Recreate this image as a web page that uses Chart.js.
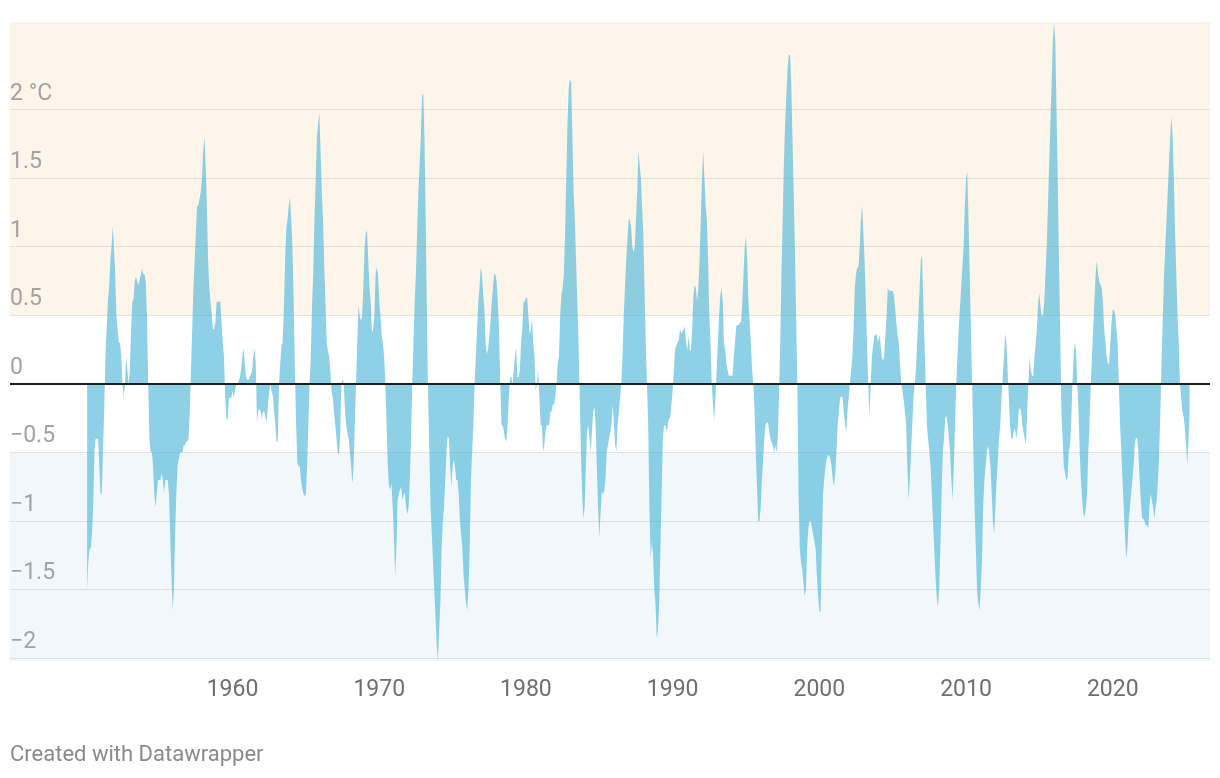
<!DOCTYPE html>
<html>
<head>
<meta charset="utf-8">
<script src="https://cdn.jsdelivr.net/npm/chart.js@4"></script>
<style>
  html, body { margin: 0; padding: 0; background: #ffffff; }
  #wrap { position: relative; width: 1220px; height: 778px; }
  #footer { position: absolute; left: 10px; top: 741px; font: 22px Roboto, sans-serif; color: #8a8a8a; }
</style>
</head>
<body>
<div id="wrap">
  <canvas id="c" width="1220" height="778"></canvas>
  <div id="footer">Created with Datawrapper</div>
</div>
<script>
// ---- DATA ----
const startYear = 1950;               // first month: Jan 1950, monthly values
const xTickYears = [1960, 1970, 1980, 1990, 2000, 2010, 2020];
const yTickValues = [-2, -1.5, -1, -0.5, 0, 0.5, 1, 1.5, 2];
const elNinoThreshold = 0.5;
const laNinaThreshold = -0.5;
const anomaly = [
/*1950*/ -1.5,-1.3,-1.2,-1.2,-1.1,-0.9,-0.5,-0.4,-0.4,-0.4,-0.6,-0.8,
/*1951*/ -0.8,-0.5,-0.2,0.2,0.4,0.6,0.7,0.9,1.0,1.15,1.0,0.8,
/*1952*/ 0.5,0.4,0.3,0.3,0.2,0.0,-0.1,0.0,0.2,0.1,0.0,0.1,
/*1953*/ 0.4,0.6,0.62,0.75,0.78,0.75,0.72,0.76,0.8,0.84,0.8,0.8,
/*1954*/ 0.75,0.5,0.0,-0.4,-0.5,-0.5,-0.6,-0.8,-0.9,-0.8,-0.7,-0.7,
/*1955*/ -0.7,-0.65,-0.7,-0.8,-0.7,-0.7,-0.7,-0.8,-1.1,-1.4,-1.65,-1.5,
/*1956*/ -1.1,-0.8,-0.6,-0.55,-0.5,-0.5,-0.5,-0.45,-0.45,-0.42,-0.42,-0.4,
/*1957*/ -0.2,0.1,0.4,0.7,0.9,1.1,1.3,1.3,1.35,1.4,1.5,1.7,
/*1958*/ 1.8,1.6,1.3,0.9,0.7,0.6,0.5,0.4,0.4,0.45,0.6,0.6,
/*1959*/ 0.6,0.6,0.45,0.3,0.2,-0.1,-0.25,-0.27,-0.1,-0.1,-0.1,-0.05,
/*1960*/ -0.1,-0.05,0.0,0.0,0.02,0.05,0.1,0.2,0.26,0.15,0.05,0.03,
/*1961*/ 0.03,0.05,0.07,0.1,0.2,0.26,0.15,-0.28,-0.2,-0.18,-0.2,-0.25,
/*1962*/ -0.2,-0.2,-0.25,-0.27,-0.15,-0.05,0.0,-0.05,-0.09,-0.2,-0.3,-0.42,
/*1963*/ -0.42,0.0,0.15,0.28,0.3,0.56,0.9,1.14,1.2,1.3,1.36,1.2,
/*1964*/ 1.0,0.6,0.1,-0.3,-0.57,-0.6,-0.6,-0.7,-0.76,-0.8,-0.82,-0.8,
/*1965*/ -0.6,-0.3,0.0,0.2,0.56,0.8,1.2,1.47,1.8,1.9,1.98,1.7,
/*1966*/ 1.41,1.2,0.86,0.6,0.31,0.24,0.2,0.1,-0.06,-0.1,-0.2,-0.3,
/*1967*/ -0.4,-0.5,-0.51,-0.4,0.0,0.04,0.0,-0.2,-0.3,-0.36,-0.4,-0.5,
/*1968*/ -0.6,-0.73,-0.6,-0.3,0.0,0.3,0.57,0.5,0.46,0.5,0.7,1.0,
/*1969*/ 1.1,1.12,0.9,0.71,0.6,0.37,0.4,0.5,0.8,0.85,0.8,0.6,
/*1970*/ 0.5,0.35,0.3,0.2,0.0,-0.3,-0.6,-0.75,-0.77,-0.72,-0.9,-1.1,
/*1971*/ -1.4,-1.2,-0.85,-0.8,-0.77,-0.75,-0.85,-0.8,-0.8,-0.9,-0.95,-0.9,
/*1972*/ -0.7,-0.4,0.0,0.3,0.6,0.8,1.1,1.4,1.6,1.8,2.1,2.12,
/*1973*/ 1.8,1.2,0.5,-0.1,-0.5,-0.9,-1.1,-1.3,-1.5,-1.7,-1.9,-2.02,
/*1974*/ -1.8,-1.6,-1.2,-1.0,-0.9,-0.7,-0.5,-0.38,-0.4,-0.6,-0.75,-0.6,
/*1975*/ -0.55,-0.6,-0.7,-0.7,-0.8,-1.0,-1.1,-1.2,-1.4,-1.5,-1.6,-1.65,
/*1976*/ -1.5,-1.2,-0.7,-0.5,-0.3,0.0,0.2,0.4,0.6,0.7,0.85,0.8,
/*1977*/ 0.65,0.55,0.3,0.22,0.25,0.35,0.45,0.6,0.7,0.8,0.8,0.75,
/*1978*/ 0.6,0.4,0.0,-0.3,-0.3,-0.35,-0.4,-0.42,-0.3,-0.1,0.05,0.05,
/*1979*/ 0.0,0.1,0.2,0.27,0.05,0.05,0.1,0.3,0.4,0.6,0.6,0.63,
/*1980*/ 0.63,0.5,0.36,0.4,0.47,0.3,0.2,-0.05,0.0,0.1,-0.1,-0.3,
/*1981*/ -0.3,-0.49,-0.45,-0.35,-0.3,-0.3,-0.3,-0.2,-0.2,-0.15,-0.15,-0.1,
/*1982*/ 0.0,0.15,0.2,0.5,0.65,0.7,0.8,1.1,1.5,1.9,2.15,2.22,
/*1983*/ 2.2,1.8,1.4,1.2,0.9,0.6,0.3,-0.1,-0.5,-0.8,-0.98,-0.9,
/*1984*/ -0.6,-0.35,-0.3,-0.4,-0.5,-0.35,-0.2,-0.17,-0.3,-0.6,-0.9,-1.12,
/*1985*/ -0.95,-0.78,-0.8,-0.78,-0.7,-0.5,-0.45,-0.4,-0.35,-0.3,-0.15,-0.3,
/*1986*/ -0.45,-0.49,-0.3,-0.2,-0.1,0.0,0.2,0.5,0.7,0.9,1.05,1.2,
/*1987*/ 1.2,1.15,1.0,0.96,1.0,1.2,1.4,1.7,1.6,1.5,1.3,1.1,
/*1988*/ 0.7,0.3,0.0,-0.3,-0.9,-1.28,-1.15,-1.25,-1.5,-1.6,-1.85,-1.8,
/*1989*/ -1.6,-1.2,-0.8,-0.4,-0.3,-0.3,-0.35,-0.3,-0.25,-0.25,-0.15,-0.05,
/*1990*/ 0.1,0.25,0.28,0.3,0.32,0.4,0.37,0.38,0.4,0.42,0.3,0.25,
/*1991*/ 0.35,0.25,0.24,0.4,0.65,0.72,0.7,0.6,0.7,0.9,1.2,1.5,
/*1992*/ 1.7,1.5,1.3,1.2,0.9,0.5,0.3,0.0,-0.15,-0.27,-0.1,0.1,
/*1993*/ 0.3,0.5,0.65,0.7,0.6,0.3,0.25,0.14,0.1,0.06,0.06,0.06,
/*1994*/ 0.06,0.2,0.3,0.42,0.43,0.43,0.45,0.45,0.6,0.8,1.0,1.08,
/*1995*/ 0.9,0.6,0.45,0.3,0.1,0.0,-0.2,-0.5,-0.75,-1.0,-1.0,-0.9,
/*1996*/ -0.7,-0.55,-0.4,-0.3,-0.28,-0.28,-0.35,-0.4,-0.43,-0.45,-0.5,-0.45,
/*1997*/ -0.5,-0.4,-0.1,0.3,0.8,1.2,1.6,1.9,2.1,2.3,2.4,2.4,
/*1998*/ 2.2,1.8,1.4,1.0,0.5,0.0,-0.8,-1.2,-1.3,-1.35,-1.45,-1.55,
/*1999*/ -1.5,-1.2,-1.05,-1.0,-1.0,-1.05,-1.1,-1.15,-1.2,-1.4,-1.55,-1.66,
/*2000*/ -1.66,-1.2,-0.8,-0.7,-0.6,-0.55,-0.52,-0.52,-0.55,-0.6,-0.7,-0.75,
/*2001*/ -0.65,-0.5,-0.3,-0.2,-0.1,-0.09,-0.1,-0.2,-0.3,-0.35,-0.2,-0.1,
/*2002*/ 0.0,0.1,0.2,0.4,0.7,0.8,0.85,0.85,1.0,1.2,1.3,1.1,
/*2003*/ 0.9,0.6,0.3,0.0,-0.25,0.0,0.2,0.28,0.35,0.36,0.36,0.3,
/*2004*/ 0.36,0.3,0.2,0.17,0.2,0.35,0.5,0.7,0.68,0.68,0.68,0.68,
/*2005*/ 0.65,0.55,0.45,0.35,0.3,0.15,0.0,-0.05,-0.12,-0.2,-0.3,-0.6,
/*2006*/ -0.85,-0.7,-0.5,-0.3,-0.1,0.0,0.1,0.3,0.5,0.7,0.9,0.94,
/*2007*/ 0.6,0.3,0.0,-0.3,-0.4,-0.5,-0.6,-0.8,-1.0,-1.2,-1.4,-1.55,
/*2008*/ -1.63,-1.5,-1.2,-0.8,-0.5,-0.4,-0.25,-0.23,-0.3,-0.4,-0.5,-0.7,
/*2009*/ -0.85,-0.6,-0.3,0.0,0.2,0.4,0.55,0.7,0.85,1.0,1.3,1.5,
/*2010*/ 1.55,1.2,0.8,0.4,0.0,-0.5,-0.9,-1.2,-1.5,-1.6,-1.65,-1.5,
/*2011*/ -1.3,-0.9,-0.7,-0.6,-0.5,-0.45,-0.5,-0.6,-0.8,-1.0,-1.1,-0.9,
/*2012*/ -0.7,-0.55,-0.4,-0.3,-0.1,0.05,0.2,0.37,0.3,0.1,-0.1,-0.3,
/*2013*/ -0.4,-0.4,-0.35,-0.32,-0.4,-0.35,-0.2,-0.17,-0.2,-0.3,-0.35,-0.4,
/*2014*/ -0.45,-0.2,0.0,0.2,0.1,0.06,0.06,0.2,0.3,0.4,0.6,0.66,
/*2015*/ 0.55,0.5,0.5,0.6,0.8,1.0,1.3,1.6,1.9,2.2,2.5,2.64,
/*2016*/ 2.5,2.0,1.5,0.9,0.4,-0.2,-0.4,-0.6,-0.65,-0.7,-0.69,-0.5,
/*2017*/ -0.45,-0.3,0.0,0.2,0.3,0.25,0.0,-0.2,-0.5,-0.7,-0.85,-0.95,
/*2018*/ -0.97,-0.9,-0.8,-0.5,-0.3,0.0,0.2,0.4,0.6,0.8,0.9,0.8,
/*2019*/ 0.75,0.72,0.7,0.6,0.4,0.3,0.2,0.15,0.15,0.3,0.45,0.54,
/*2020*/ 0.54,0.5,0.4,0.3,0.0,-0.3,-0.5,-0.7,-0.9,-1.1,-1.27,-1.2,
/*2021*/ -1.0,-0.9,-0.8,-0.7,-0.6,-0.45,-0.39,-0.4,-0.5,-0.7,-0.85,-0.98,
/*2022*/ -0.98,-1.0,-1.03,-1.03,-1.05,-0.9,-0.8,-0.85,-0.9,-0.98,-0.9,-0.85,
/*2023*/ -0.7,-0.5,-0.2,0.2,0.5,0.8,1.0,1.2,1.4,1.6,1.8,1.95,
/*2024*/ 1.8,1.5,1.1,0.8,0.5,0.3,0.0,-0.1,-0.2,-0.24,-0.32,-0.45,
/*2025*/ -0.59,-0.4,-0.2
];

// ---- CHART ----
const points = anomaly.map((v, i) => ({ x: startYear + (i + 1) / 12, y: v }));

const bandsPlugin = {
  id: 'bands',
  beforeDraw(chart) {
    const { ctx, chartArea: { left, right, top, bottom }, scales: { y } } = chart;
    ctx.save();
    ctx.fillStyle = '#ffffff';
    ctx.fillRect(0, 0, chart.width, chart.height);
    const yHot = y.getPixelForValue(elNinoThreshold);
    const yCold = y.getPixelForValue(laNinaThreshold);
    ctx.fillStyle = '#fdf4ea';
    ctx.fillRect(left, top, right - left, yHot - top);
    ctx.fillStyle = '#f1f7fb';
    ctx.fillRect(left, yCold, right - left, bottom - yCold);
    ctx.restore();
  }
};
const zeroLinePlugin = {
  id: 'zeroLine',
  afterDatasetsDraw(chart) {
    const { ctx, chartArea: { left, right }, scales: { y } } = chart;
    const y0 = Math.round(y.getPixelForValue(0));
    ctx.save();
    ctx.strokeStyle = '#1d1d1d';
    ctx.lineWidth = 2;
    ctx.beginPath();
    ctx.moveTo(left, y0);
    ctx.lineTo(right, y0);
    ctx.stroke();
    ctx.restore();
  }
};

new Chart(document.getElementById('c'), {
  type: 'line',
  data: {
    datasets: [{
      data: points,
      fill: 'origin',
      backgroundColor: 'rgba(66,178,214,0.6)',
      borderColor: 'rgba(0,0,0,0)',
      borderWidth: 0,
      pointRadius: 0,
      tension: 0
    }]
  },
  options: {
    responsive: false,
    animation: false,
    devicePixelRatio: 1,
    layout: { padding: { left: 10, right: 10, top: 22, bottom: 0 } },
    plugins: { legend: { display: false }, tooltip: { enabled: false } },
    scales: {
      x: {
        type: 'linear',
        min: 1944.83,
        max: 2026.63,
        afterBuildTicks: (scale) => { scale.ticks = xTickYears.map(v => ({ value: v })); },
        afterFit: (scale) => { scale.height = 117; },
        grid: { display: false, drawTicks: false },
        border: { display: false },
        ticks: {
          autoSkip: false,
          maxRotation: 0,
          padding: 15,
          color: '#6f6f6f',
          font: { family: 'Roboto', size: 23 },
          callback: (v) => String(v)
        }
      },
      y: {
        min: -2.02,
        max: 2.64,
        afterBuildTicks: (scale) => { scale.ticks = yTickValues.map(v => ({ value: v })); },
        afterFit: (scale) => { scale.width = 0; },
        grid: {
          drawTicks: false,
          color: (ctx) => (ctx.tick && ctx.tick.value === 0) ? 'rgba(0,0,0,0)' : 'rgba(0,0,0,0.09)',
          lineWidth: 1
        },
        border: { display: false },
        ticks: {
          mirror: true,
          padding: 0,
          labelOffset: -16,
          color: '#a2a2a2',
          font: { family: 'Roboto', size: 23 },
          callback: (v) => {
            if (v === 2) return '2 °C';
            return v < 0 ? '\u2212' + String(Math.abs(v)) : String(v);
          }
        }
      }
    }
  },
  plugins: [bandsPlugin, zeroLinePlugin]
});
</script>
</body>
</html>
